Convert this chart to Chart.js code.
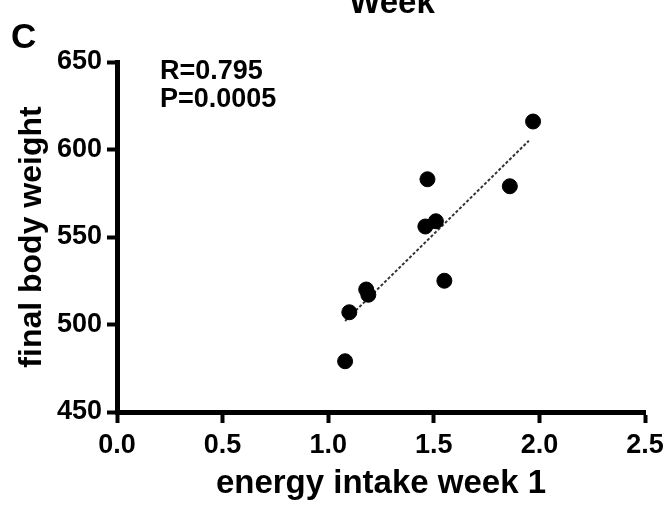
<!DOCTYPE html>
<html>
<head>
<meta charset="utf-8">
<script src="https://cdn.jsdelivr.net/npm/chart.js@4"></script>
<style>
  html, body { margin: 0; padding: 0; background: #fff; }
  #wrap { width: 666px; height: 506px; }
</style>
</head>
<body>
<div id="wrap"><canvas id="chart"></canvas></div>
<script>
// energy intake week 1 vs final body weight
const intake = [1.97, 1.47, 1.86, 1.46, 1.51, 1.55, 1.18, 1.19, 1.10, 1.08];
const weight = [616, 583, 579, 556, 559, 525, 520, 517, 507, 479];

// dashed fit line, ends
const fitX = [1.08, 1.95];
const fitY = [502, 605];

const xTicks = [0, 0.5, 1.0, 1.5, 2.0, 2.5];
const yTicks = [450, 500, 550, 600, 650];

const FONT = '"Liberation Sans", Arial, sans-serif';

// panel letter, cropped title and stats text
const extraText = {
    id: 'extraText',
    afterDraw(chart) {
        const ctx = chart.ctx;
        ctx.save();
        ctx.fillStyle = '#000';
        ctx.textBaseline = 'alphabetic';
        ctx.textAlign = 'left';
        ctx.font = 'bold 35px ' + FONT;
        ctx.fillText('C', 11, 48);
        ctx.textAlign = 'center';
        ctx.font = 'bold 33px ' + FONT;
        ctx.fillText('Week', 392, 13);
        ctx.textAlign = 'left';
        ctx.font = 'bold 27px ' + FONT;
        ctx.fillText('R=0.795', 160, 79);
        ctx.fillText('P=0.0005', 160, 107);
        ctx.restore();
    }
};

new Chart(document.getElementById('chart'), {
    type: 'scatter',
    data: {
        datasets: [{
            data: intake.map((x, i) => ({ x: x, y: weight[i] })),
            backgroundColor: '#000',
            borderColor: '#000',
            pointRadius: 7.5,
            pointHoverRadius: 7.5
        }, {
            type: 'line',
            data: fitX.map((x, i) => ({ x: x, y: fitY[i] })),
            borderColor: '#333',
            borderWidth: 2,
            borderDash: [3, 2],
            pointRadius: 0,
            fill: false
        }]
    },
    options: {
        responsive: true,
        maintainAspectRatio: false,
        animation: false,
        plugins: { legend: { display: false }, tooltip: { enabled: false } },
        layout: { padding: { left: 0, top: 62, right: 21, bottom: 0 } },
        scales: {
            x: {
                type: 'linear',
                min: 0, max: 2.5,
                afterBuildTicks: s => { s.ticks = xTicks.map(v => ({ value: v })); },
                afterFit: s => { s.height = 94; s.paddingRight = 0; s.paddingLeft = 0; },
                border: { color: '#000', width: 5 },
                grid: { drawOnChartArea: false, tickLength: 11, tickWidth: 4, tickColor: '#000' },
                ticks: {
                    color: '#000', padding: 6,
                    font: { family: FONT, size: 27, weight: 'bold' },
                    callback: v => v.toFixed(1)
                },
                title: {
                    display: true, text: 'energy intake week 1', color: '#000',
                    font: { family: FONT, size: 33, weight: 'bold' },
                    padding: { top: 0, bottom: 2 }
                }
            },
            y: {
                min: 450, max: 650,
                afterBuildTicks: s => { s.ticks = yTicks.map(v => ({ value: v })); },
                afterFit: s => { s.width = 117; },
                border: { color: '#000', width: 5 },
                grid: { drawOnChartArea: false, tickLength: 10, tickWidth: 4, tickColor: '#000' },
                ticks: {
                    color: '#000', padding: 5,
                    font: { family: FONT, size: 27, weight: 'bold' }
                },
                title: {
                    display: true, text: 'final body weight', color: '#000',
                    font: { family: FONT, size: 32, weight: 'bold' },
                    padding: { top: 13, bottom: 0 }
                }
            }
        }
    },
    plugins: [extraText]
});
</script>
</body>
</html>
